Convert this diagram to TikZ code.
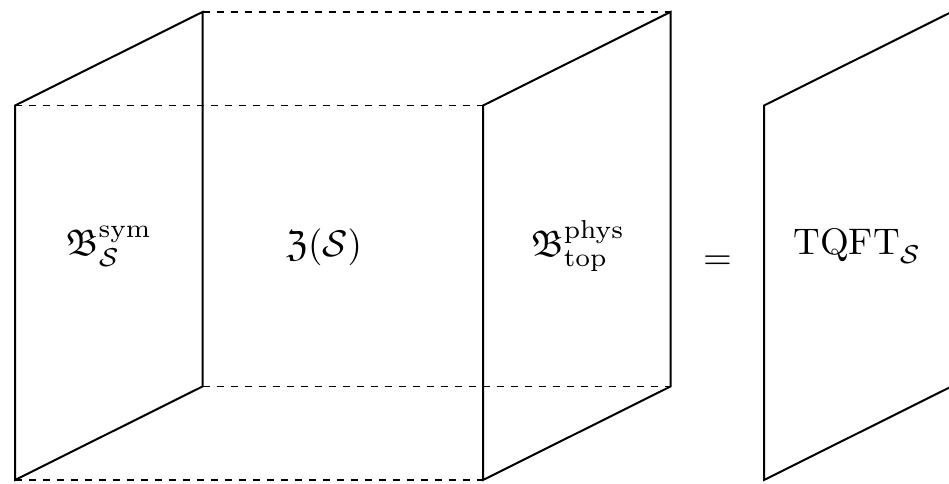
\documentclass[tikz,border=0pt]{standalone}
\usepackage{amsmath,amssymb}
\usepackage{tikz}
\usetikzlibrary{positioning,calc}
\tikzset{
  pln/.style  = {line width=1pt, line join=miter},
  edgd/.style = {line width=0.65pt, dash pattern=on 3.5pt off 3.5pt},
  lbl/.style  = {inner sep=0pt, scale=1.85, transform shape},
}

\begin{document}
\begin{tikzpicture}[x=0.5pt, y=0.5pt]
  \clip (0,0) rectangle (949,483);
  % corners of the three walls
  \coordinate (sa) at (15,377.5);   \coordinate (sb) at (202.5,471);
  \coordinate (sc) at (202.5,96.5); \coordinate (sd) at (15,3);
  \coordinate (pa) at (483,377.5);  \coordinate (pb) at (670.5,471);
  \coordinate (pc) at (670.5,96.5); \coordinate (pd) at (483,3);
  \coordinate (ta) at (764,377.5);  \coordinate (tb) at (951.5,471);
  \coordinate (tc) at (951.5,96.5); \coordinate (td) at (764,3);
  % slab edges
  \draw[edgd] (sb) -- (pb);
  \draw[edgd] (sa) -- (pa);
  \draw[edgd] (sc) -- (pc);
  \draw[edgd] (sd) -- (pd);
  % walls
  \draw[pln] (sa) -- (sb) -- (sc) -- (sd) -- cycle;
  \draw[pln] (pa) -- (pb) -- (pc) -- (pd) -- cycle;
  \draw[pln] (ta) -- (tb) -- (tc) -- (td) -- cycle;
  % labels
  \node[lbl] (bsym)  at (109,237)   {$\mathfrak{B}^{\text{sym}}_{\mathcal{S}}$};
  \node[lbl] (zs)    at (324,236)   {$\mathfrak{Z}(\mathcal{S})$};
  \node[lbl] (bphys) at (578,237)   {$\mathfrak{B}^{\text{phys}}_{\text{top}}$};
  \node[lbl] (eq)    at (717.5,220) {$=$};
  \node[lbl] (tqft)  at (857.5,237) {$\text{TQFT}_{\mathcal{S}}$};
\end{tikzpicture}
\end{document}
